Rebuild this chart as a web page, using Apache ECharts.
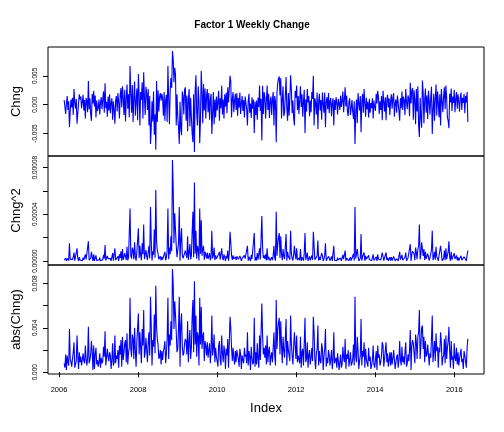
<!DOCTYPE html>
<html>
<head>
<meta charset="utf-8">
<script src="https://cdn.jsdelivr.net/npm/echarts@6/dist/echarts.min.js"></script>
<style>
html,body{margin:0;padding:0;background:#fff;}
#chart{width:504px;height:432px;}
</style>
</head>
<body>
<div id="chart"></div>
<script>
// Weekly changes, in thousandths (x 0.001)
var chngThousandths = [
 0.8,-0.4,-1.6,0.2,1.5,-0.9,0.6,-3.9,-1.2,0.9,
 -0.5,1.2,-1.8,2.7,0.4,-0.7,1.0,-3.3,-1.5,0.3,
 1.8,0.9,1.4,-0.6,0.5,1.7,-1.0,0.8,-2.4,1.2,
 0.6,-1.3,4.1,-0.8,1.1,-1.6,-2.8,1.9,0.2,2.4,
 -0.3,1.6,-2.2,0.7,-1.1,-0.5,0.9,-1.7,0.4,1.3,
 -0.8,1.0,2.3,-1.4,3.7,-0.6,0.5,-2.1,1.4,-1.0,
 1.8,-1.5,0.3,1.1,-2.6,0.6,-0.9,-3.3,0.8,1.5,
 -1.2,2.0,0.4,-2.4,1.6,2.9,-0.5,3.2,1.1,-1.8,
 2.6,-2.9,0.9,3.5,-0.7,1.8,-2.2,6.7,2.1,-1.4,
 3.4,-3.0,1.2,4.0,-1.9,0.5,2.8,-2.7,5.3,1.6,
 -3.6,2.2,0.8,3.9,-2.4,5.6,1.3,-1.8,3.1,2.0,
 -0.9,2.7,-3.6,1.5,-6.8,-4.1,0.6,-2.9,2.3,-5.2,
 -1.7,-7.8,4.1,-3.0,2.5,-1.2,1.4,2.0,0.7,1.9,
 1.1,-1.9,2.2,-2.8,0.8,1.7,-3.0,6.7,1.2,-3.4,
 2.4,4.6,2.9,9.3,7.9,3.9,6.4,5.2,-3.6,1.8,
 -2.1,-3.9,-6.8,0.5,-4.2,-5.3,2.3,1.5,-1.7,2.6,
 3.0,-2.8,1.6,-4.6,0.9,2.7,-3.8,1.2,-2.2,-5.0,
 -6.5,1.8,-8.2,2.5,5.1,-1.4,-3.6,3.2,0.6,-6.7,
 -2.5,5.9,2.1,-3.2,3.6,-1.0,2.8,-2.4,1.5,2.7,
 -1.3,2.0,-2.6,0.8,1.9,-5.1,-1.5,2.2,-3.4,0.9,
 -2.2,1.4,-1.0,0.5,2.4,-2.8,1.1,-0.6,3.3,-1.7,
 0.9,-2.4,1.8,-0.3,2.1,-1.5,3.0,0.4,2.6,5.0,
 4.0,-2.2,1.0,2.2,-1.3,0.7,1.9,-0.9,2.0,-1.9,
 1.2,-0.5,2.1,-1.6,0.3,1.5,-1.1,0.8,-2.2,1.4,
 1.6,-0.8,-3.6,0.6,1.9,-1.4,0.2,-2.3,1.3,-0.7,
 0.9,-4.9,0.5,-1.8,0.7,-2.6,1.2,-0.4,3.3,-1.1,
 1.0,-6.2,3.3,-1.6,2.2,1.3,-2.4,0.7,3.3,-0.9,
 1.9,-2.3,0.6,1.4,-1.8,0.9,2.2,-3.6,1.5,0.6,
 -6.5,2.1,3.8,4.5,4.9,1.6,4.6,-2.4,0.8,3.2,
 -2.0,-1.3,1.4,4.8,-0.6,-2.8,2.0,-1.9,1.0,5.1,
 2.6,-1.5,0.7,-2.3,-3.6,2.4,1.2,3.3,-0.9,1.5,
 -1.6,0.8,3.2,-0.4,1.8,-2.1,0.6,2.6,-4.9,0.9,
 -1.2,2.7,0.4,1.5,-2.0,0.7,-1.3,2.2,1.0,5.0,
 -3.6,1.1,0.3,-1.7,2.1,-4.2,0.6,1.9,-1.0,0.8,
 -2.6,2.1,0.2,-1.4,2.1,-3.9,0.5,1.3,-0.8,2.0,
 -1.5,0.6,1.2,-2.0,0.3,1.1,-3.6,0.8,-0.9,1.3,
 0.4,-1.7,1.0,0.2,-0.9,1.6,-0.4,0.7,2.3,-1.3,
 0.9,3.0,-0.3,1.6,-1.2,-2.0,0.5,1.1,-1.8,-0.6,
 0.8,-1.2,-2.5,0.6,-6.8,-1.4,0.9,-3.2,2.0,0.3,
 -1.0,1.5,-4.8,0.6,1.9,-1.4,2.7,0.4,-2.1,1.2,
 -0.8,0.5,-2.2,1.0,-1.4,0.3,-0.6,1.1,-2.4,0.7,
 -0.4,-1.1,1.9,0.2,2.4,1.3,-1.6,0.6,-0.9,1.5,
 -2.7,2.4,0.5,-1.2,1.3,-2.7,0.9,1.7,-0.5,1.1,
 -1.8,0.6,1.8,-0.7,1.2,2.0,-2.1,0.3,0.9,-1.4,
 1.6,0.4,-1.1,-2.8,1.1,-0.6,2.3,-0.9,1.4,0.7,
 -1.8,2.7,0.5,-0.8,1.6,1.0,-2.0,3.8,0.2,2.4,
 2.9,-2.6,2.5,0.8,-3.4,2.7,-1.2,3.2,-3.6,-5.6,
 1.2,-2.4,-4.0,4.2,2.1,-3.2,0.9,2.8,-1.4,1.6,
 -2.5,2.4,0.6,-1.7,1.3,3.1,-5.1,-0.9,1.9,-2.8,
 1.0,3.5,-1.9,2.3,0.4,-2.2,1.8,-3.6,2.7,0.6,
 -1.3,1.5,3.0,-0.8,3.3,1.2,-2.2,-2.8,-4.1,1.9,
 0.4,2.8,-1.1,1.4,0.3,2.6,-1.3,1.0,2.2,-0.7,
 1.8,0.6,-1.2,1.3,2.1,-0.9,1.2,0.3,1.9,-1.5,
 1.5,0.4,2.2,-3.0
];
// first observation (decimal year), weekly spacing
var startYear = 2006.13;
var xTickYears = [2006, 2008, 2010, 2012, 2014, 2016];
var y1Ticks = [-0.005, 0, 0.005];
var y2Ticks = [0, 0.00002, 0.00004, 0.00006, 0.00008];
var y2Labels = [0, 0.00004, 0.00008];
var y3Ticks = [0, 0.002, 0.004, 0.006, 0.008];
var y3Labels = [0, 0.004, 0.008];
var panelNames = ['Chng', 'Chng^2', 'abs(Chng)'];
var titleText = 'Factor 1 Weekly Change';

var weekYears = 7 / 365.25;
var chng = chngThousandths.map(function (v) { return v / 1000; });
var chng2 = chng.map(function (v) { return v * v; });
var absChng = chng.map(function (v) { return Math.abs(v); });
var years = chng.map(function (v, i) { return startYear + i * weekYears; });

function pad(arr) {
  var mn = Math.min.apply(null, arr), mx = Math.max.apply(null, arr);
  var d = (mx - mn) * 0.04;
  return [mn - d, mx + d];
}
var xr = pad(years), r1 = pad(chng), r2 = pad(chng2), r3 = pad(absChng);
function pairs(ys) { return ys.map(function (v, i) { return [years[i], v]; }); }

var FONT = '"Liberation Sans", Arial, sans-serif';
var L = 48, W = 436, H = 109, tops = [47, 156, 265];

var grids = tops.map(function (t) {
  return { left: L, top: t, width: W, height: H, show: true, borderColor: '#000', borderWidth: 1, backgroundColor: 'transparent' };
});

var xAxes = [0, 1, 2].map(function (g) {
  var last = g === 2;
  return {
    type: 'value', gridIndex: g, min: xr[0], max: xr[1], splitLine: { show: false },
    axisLine: { show: false },
    axisTick: { show: last, customValues: xTickYears, length: 5, lineStyle: { color: '#000', width: 1 } },
    axisLabel: { show: last, customValues: xTickYears, fontSize: 7.5, color: '#000', fontFamily: FONT, margin: 12,
      formatter: function (v) { return String(Math.round(v)); } },
    name: last ? 'Index' : '', nameLocation: 'middle', nameGap: 28,
    nameTextStyle: { fontSize: 13, color: '#000', fontFamily: FONT }
  };
});

function yAxis(g, rng, ticks, labels, dec) {
  return {
    type: 'value', gridIndex: g, min: rng[0], max: rng[1], splitLine: { show: false },
    axisLine: { show: false },
    axisTick: { show: true, customValues: ticks, length: 5, lineStyle: { color: '#000', width: 1 } },
    axisLabel: { customValues: labels, rotate: 90, fontSize: 6.5, color: '#000', fontFamily: FONT, margin: 9,
      formatter: function (v) { return v.toFixed(dec); } },
    name: panelNames[g], nameLocation: 'middle', nameRotate: 90, nameGap: 25,
    nameTextStyle: { fontSize: 13, color: '#000', fontFamily: FONT }
  };
}

var yAxes = [
  yAxis(0, r1, y1Ticks, y1Ticks, 3),
  yAxis(1, r2, y2Ticks, y2Labels, 5),
  yAxis(2, r3, y3Ticks, y3Labels, 3)
];

function line(g, ys) {
  return { type: 'line', xAxisIndex: g, yAxisIndex: g, data: pairs(ys), showSymbol: false, symbol: 'none',
    lineStyle: { color: '#0000ff', width: 1.1 }, animation: false, silent: true };
}

var chart = echarts.init(document.getElementById('chart'), null, { renderer: 'canvas' });
chart.setOption({
  animation: false,
  backgroundColor: '#fff',
  title: { text: titleText, left: 'center', top: 15, textStyle: { fontSize: 10, fontWeight: 'bold', color: '#000', fontFamily: FONT } },
  grid: grids,
  xAxis: xAxes,
  yAxis: yAxes,
  series: [line(0, chng), line(1, chng2), line(2, absChng)]
});
</script>
</body>
</html>
